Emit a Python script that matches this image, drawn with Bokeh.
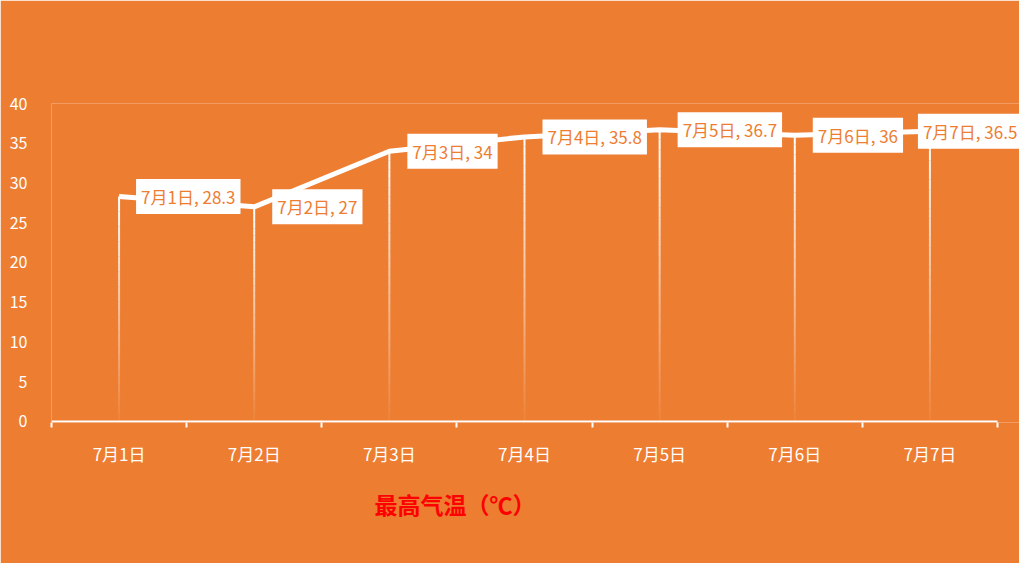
from bokeh.plotting import figure
from bokeh.models import Range1d, FixedTicker, Label, Title
from bokeh.embed import file_html
from bokeh.resources import INLINE

# 数据
days = ["7月1日", "7月2日", "7月3日", "7月4日", "7月5日", "7月6日", "7月7日"]
temps = [28.3, 27, 34, 35.8, 36.7, 36, 36.5]
y_ticks = [0, 5, 10, 15, 20, 25, 30, 35, 40]
title_text = "最高气温（℃）"

BG = "#ED7D31"
FONT = "Noto Sans CJK SC"

xs = [i + 0.5 for i in range(len(days))]
n_cat = len(days)

# 绘图区右侧多留一点，让最后一个标签不被裁掉
p = figure(width=1019, height=563, output_backend="svg", toolbar_location=None,
           x_range=Range1d(0, n_cat * 968 / 946), y_range=Range1d(-0.126, 40),
           min_border_left=51, min_border_right=0,
           min_border_top=103, min_border_bottom=141)
p.background_fill_color = BG
p.border_fill_color = BG
p.outline_line_color = None
p.grid.visible = False

# x 轴：标签在类别中心，刻度在类别边界
p.xaxis.ticker = FixedTicker(ticks=xs, minor_ticks=list(range(n_cat + 1)))
p.xaxis.major_label_overrides = {x: d for x, d in zip(xs, days)}
p.xaxis.axis_line_color = None
p.xaxis.major_tick_line_color = None
p.xaxis.minor_tick_line_color = "white"
p.xaxis.minor_tick_line_width = 2
p.xaxis.minor_tick_in = 0
p.xaxis.minor_tick_out = 5
p.xaxis.major_label_text_color = "white"
p.xaxis.major_label_text_font = FONT
p.xaxis.major_label_text_font_size = "17px"
p.xaxis.major_label_standoff = 12

p.yaxis.ticker = FixedTicker(ticks=y_ticks)
p.yaxis.axis_line_color = None
p.yaxis.major_tick_line_color = None
p.yaxis.minor_tick_line_color = None
p.yaxis.major_label_text_color = "white"
p.yaxis.major_label_text_font = FONT
p.yaxis.major_label_text_font_size = "16px"
p.yaxis.major_label_standoff = 18

# x 轴线
p.segment(x0=[0], y0=[0], x1=[n_cat], y1=[0], line_color="white", line_width=2)

# 垂直线（上白下透明的渐变）
n = 30
for x, v in zip(xs, temps):
    x0s, y0s, y1s, alphas = [], [], [], []
    for k in range(n):
        x0s.append(x)
        y0s.append(v * k / n)
        y1s.append(v * (k + 1) / n)
        alphas.append(0.03 + 0.97 * (k + 1) / n)
    p.segment(x0=x0s, y0=y0s, x1=x0s, y1=y1s, line_color="white",
              line_width=2, line_alpha=alphas)

# 折线
p.line(xs, temps, line_color="white", line_width=5)

# 数据标签
label_dx = [17, 18, 18, 18, 18, 18, -12]
for x, v, d, dx in zip(xs, temps, days, label_dx):
    p.add_layout(Label(x=x, y=v, x_offset=dx, text=f"{d}, {v:g}",
                       text_font=FONT, text_font_size="17px", text_color=BG,
                       text_align="left", text_baseline="middle",
                       background_fill_color="white", padding=5))

# 标题（图下方）
p.add_layout(Title(text=title_text, text_font=FONT, text_font_size="23px",
                   text_font_style="bold", text_color="#FF0000",
                   align="left", offset=323, standoff=32), "below")

html = file_html(p, INLINE)
html = html.replace("<body>", '<body style="background:#ED7D31;">', 1)
open("out.html", "w").write(html)
